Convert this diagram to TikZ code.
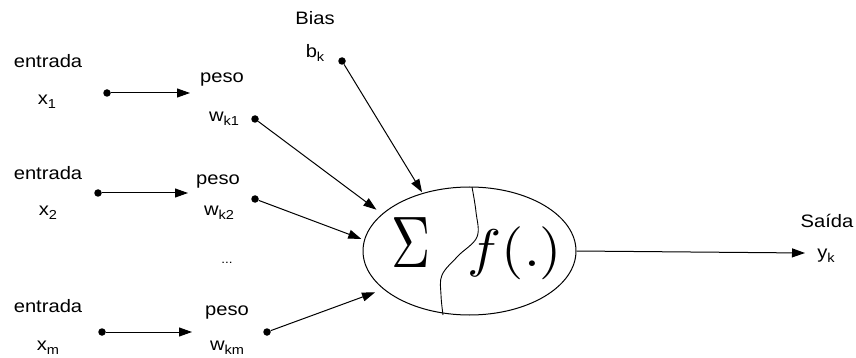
\documentclass[tikz,border=0pt]{standalone}
\usepackage{fontspec}
\setmainfont[FakeStretch=1.12]{Liberation Sans}
\usetikzlibrary{arrows.meta,shapes.geometric}
\newcommand\lowsub[1]{\raisebox{-4pt}{\fontsize{13}{13}\selectfont #1}}
\begin{document}
\begin{tikzpicture}[x=1pt,y=-1pt,
  lbl/.style={font=\fontsize{18}{20}\selectfont, inner sep=0pt, anchor=base},
  dotnode/.style={circle, fill=black, inner sep=0pt, minimum size=7.5pt},
  conn/.style={line width=1pt, -{Triangle[length=13pt,width=9pt]}},
  neuronstyle/.style={ellipse, draw, line width=1pt, minimum width=213pt, minimum height=128pt, inner sep=0pt}
]
\useasboundingbox (0,0) rectangle (856,358);

% labels
\node[lbl] (in1) at (48,68) {entrada};
\node[lbl] (x1) at (47,105) {x\lowsub{1}};
\node[lbl] (in2) at (48,180) {entrada};
\node[lbl] (x2) at (48,215) {x\lowsub{2}};
\node[lbl] (in3) at (48,312) {entrada};
\node[lbl] (xm) at (48,350) {x\lowsub{m}};
\node[lbl] (p1) at (222,83) {peso};
\node[lbl] (w1) at (224,122) {w\lowsub{k1}};
\node[lbl] (p2) at (218,185) {peso};
\node[lbl] (w2) at (219,215) {w\lowsub{k2}};
\node[lbl] (p3) at (227,315) {peso};
\node[lbl] (w3) at (227,350) {w\lowsub{km}};
\node[lbl, font=\fontsize{12}{12}\selectfont] (dots) at (227,263) {...};
\node[lbl] (bias) at (315,25) {Bias};
\node[lbl] (bk) at (315,58) {b\lowsub{k}};
\node[lbl] (sai) at (827,227) {Saída};
\node[lbl] (yk) at (826,258) {y\lowsub{k}};

% neuron
\node[neuronstyle] (neuron) at (469.5,251) {};
\node[inner sep=0pt] (sigma) at (411,243) {\scalebox{5.4}[7.3]{$\Sigma$}};
\node[inner sep=0pt] (func) at (515,253) {\scalebox{5.7}[5.3]{$f(.)$}};
\draw[line width=0.9pt] plot[smooth, tension=0.6] coordinates {(472,187) (476,212) (477,237) (458,256) (442,275) (441,295) (443,315)};

% dots
\node[dotnode] (e1) at (107,93) {};
\node[dotnode] (e2) at (98,193) {};
\node[dotnode] (e3) at (102,332) {};
\node[dotnode] (d1) at (255,119) {};
\node[dotnode] (d2) at (255,199) {};
\node[dotnode] (d3) at (267,332) {};
\node[dotnode] (db) at (342,61) {};

% free ends
\coordinate (a1) at (190,93);
\coordinate (a2) at (188,193);
\coordinate (a3) at (192,332);
\coordinate (out) at (805,253);

% connectors
\draw[conn] (e1) -- (a1);
\draw[conn] (e2) -- (a2);
\draw[conn] (e3) -- (a3);
\draw[conn, shorten >=7pt] (d1) -- (neuron.157);
\draw[conn, shorten >=3pt] (d2) -- (neuron.174);
\draw[conn, shorten >=9pt] (d3) -- (neuron.204);
\draw[conn, shorten >=1pt] (db) -- (neuron.129);
\draw[conn] (neuron.east) -- (out);
\end{tikzpicture}
\end{document}
